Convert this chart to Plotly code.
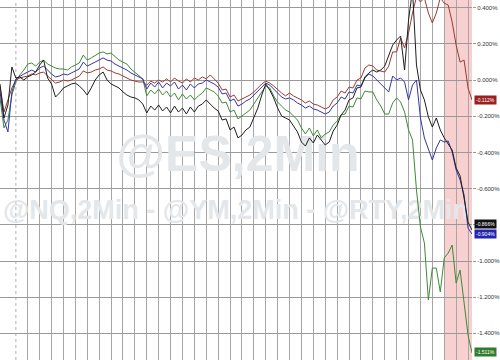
import plotly.graph_objects as go

# ---------------- data (percent change, 2-minute bars) ----------------
bars = list(range(120))

nq_red = [
    -0.033, -0.177, -0.110, -0.044, 0.000, 0.011, 0.017, 0.022, 0.033, 0.028,
    0.039, 0.044, 0.022, 0.000, -0.017, -0.011, 0.000, -0.006, 0.000, 0.011,
    0.022, 0.050, 0.039, 0.044, 0.055, 0.061, 0.072, 0.055, 0.050, 0.039,
    0.033, 0.022, 0.011, 0.000, -0.006, -0.011, -0.011, -0.028, -0.006, -0.017,
    0.000, -0.011, 0.006, -0.011, 0.011, -0.006, -0.017, 0.006, -0.011, 0.011,
    0.000, 0.017, 0.006, 0.028, 0.006, -0.017, -0.055, -0.050, -0.094, -0.083,
    -0.116, -0.105, -0.094, -0.083, -0.066, -0.044, -0.022, -0.006, -0.017, -0.033,
    -0.055, -0.072, -0.088, -0.072, -0.088, -0.099, -0.110, -0.127, -0.116, -0.133,
    -0.138, -0.149, -0.160, -0.149, -0.110, -0.094, -0.061, -0.072, -0.039, -0.044,
    0.000, 0.011, 0.066, 0.083, 0.077, 0.055, 0.050, 0.044, 0.077, 0.155,
    0.155, 0.232, 0.177, 0.260, 0.370, 0.459, 0.431, 0.453, 0.370, 0.315,
    0.370, 0.453, 0.425, 0.414, 0.320, 0.193, 0.099, 0.110, -0.044, -0.110,
]

es_black = [
    -0.022, -0.210, -0.138, 0.072, 0.011, 0.017, 0.000, 0.017, 0.028, 0.044,
    0.083, 0.110, 0.011, -0.022, -0.094, -0.072, -0.044, -0.033, -0.022, -0.017,
    -0.033, -0.055, -0.083, -0.044, 0.000, 0.028, 0.044, 0.000, -0.022, -0.033,
    -0.044, -0.066, -0.083, -0.094, -0.099, -0.110, -0.133, -0.182, -0.144, -0.166,
    -0.138, -0.171, -0.149, -0.182, -0.144, -0.177, -0.155, -0.188, -0.149, -0.177,
    -0.144, -0.133, -0.110, -0.133, -0.155, -0.171, -0.221, -0.215, -0.276, -0.260,
    -0.320, -0.304, -0.276, -0.260, -0.210, -0.155, -0.083, -0.022, -0.055, -0.099,
    -0.155, -0.199, -0.210, -0.221, -0.254, -0.287, -0.343, -0.365, -0.320, -0.348,
    -0.304, -0.331, -0.359, -0.343, -0.282, -0.249, -0.193, -0.166, -0.110, -0.099,
    -0.044, -0.039, 0.017, 0.039, 0.055, 0.044, 0.055, 0.077, 0.138, 0.193,
    0.221, 0.243, 0.055, 0.331, 0.497, 0.083, -0.055, -0.110, -0.204, -0.260,
    -0.210, -0.276, -0.320, -0.354, -0.387, -0.486, -0.530, -0.652, -0.785, -0.829,
]

ym_blue = [
    -0.066, -0.221, -0.287, -0.066, 0.006, 0.022, 0.033, 0.044, 0.055, 0.044,
    0.066, 0.077, 0.055, 0.033, 0.017, 0.022, 0.033, 0.028, 0.039, 0.050,
    0.061, 0.099, 0.077, 0.088, 0.099, 0.110, 0.122, 0.110, 0.105, 0.088,
    0.077, 0.066, 0.055, 0.039, 0.028, 0.017, 0.006, -0.050, -0.017, -0.039,
    -0.011, -0.044, -0.017, -0.033, -0.011, -0.050, -0.028, -0.055, -0.022, -0.044,
    -0.022, -0.017, 0.000, -0.011, -0.022, -0.039, -0.077, -0.072, -0.116, -0.105,
    -0.144, -0.133, -0.116, -0.105, -0.083, -0.061, -0.039, -0.017, -0.028, -0.050,
    -0.077, -0.094, -0.105, -0.099, -0.110, -0.127, -0.138, -0.155, -0.144, -0.160,
    -0.166, -0.177, -0.188, -0.177, -0.144, -0.127, -0.094, -0.105, -0.066, -0.072,
    -0.028, -0.033, 0.011, 0.033, 0.022, 0.000, -0.022, -0.044, -0.066, 0.022,
    0.000, 0.011, -0.011, -0.110, -0.028, 0.000, -0.210, -0.320, -0.387, -0.442,
    -0.376, -0.331, -0.343, -0.337, -0.398, -0.497, -0.552, -0.635, -0.818, -0.851,
]

rty_green = [
    -0.099, -0.265, -0.221, -0.083, -0.011, 0.028, 0.055, 0.088, 0.094, 0.077,
    0.099, 0.110, 0.088, 0.077, 0.066, 0.061, 0.061, 0.055, 0.072, 0.083,
    0.094, 0.138, 0.110, 0.122, 0.138, 0.149, 0.155, 0.144, 0.149, 0.127,
    0.110, 0.099, 0.088, 0.061, 0.044, 0.028, 0.006, -0.088, -0.055, -0.077,
    -0.050, -0.083, -0.061, -0.094, -0.072, -0.110, -0.077, -0.105, -0.083, -0.110,
    -0.088, -0.072, -0.044, -0.055, -0.066, -0.088, -0.127, -0.122, -0.177, -0.166,
    -0.215, -0.199, -0.182, -0.166, -0.133, -0.099, -0.066, -0.033, -0.044, -0.088,
    -0.122, -0.144, -0.166, -0.177, -0.199, -0.221, -0.265, -0.298, -0.265, -0.309,
    -0.276, -0.320, -0.298, -0.287, -0.249, -0.227, -0.193, -0.188, -0.144, -0.149,
    -0.099, -0.105, -0.061, -0.066, -0.066, -0.110, -0.144, -0.188, -0.188, -0.127,
    -0.099, -0.122, -0.177, -0.276, -0.331, -0.608, -0.812, -0.901, -1.215, -1.039,
    -1.039, -1.171, -0.983, -0.956, -0.912, -1.122, -1.050, -1.215, -1.409, -1.508,
]

end_labels = ["-0.112%", "-0.866%", "-0.904%", "-1.511%"]

y_ticks = [0.4, 0.2, 0.0, -0.2, -0.4, -0.6, -0.8, -1.0, -1.2, -1.4]
# the -0.800% label sits behind the end-value boxes in the original, so it is left blank
y_tick_text = ["0.400%", "0.200%", "0.000%", "-0.200%", "-0.400%", "-0.600%",
               "", "-1.000%", "-1.200%", "-1.400%"]

watermark_main = "@ES,2Min"
watermark_sub = "@NQ,2Min - @YM,2Min - @RTY,2Min"

# ---------------- figure ----------------
X_RANGE = [0, 119]
Y_RANGE = [-1.547, 0.442]
session_open = 4
shade_start = 112

fig = go.Figure()

def yfrac(f):
    return Y_RANGE[0] + f * (Y_RANGE[1] - Y_RANGE[0])

xmid = (X_RANGE[0] + X_RANGE[1]) / 2
# watermark as a text trace (drawn beneath the price lines)
fig.add_trace(go.Scatter(
    x=[xmid + 0.5, xmid], y=[yfrac(0.561), yfrac(0.411)],
    mode="text", text=[watermark_main, watermark_sub],
    textfont=dict(family="Liberation Sans", size=[50, 27], color="#e3e7ea",
                  weight="bold"),
    textposition="middle center", hoverinfo="skip", showlegend=False,
    cliponaxis=False,
))

series = [
    ("RTY", rty_green, "#3f8a36"),
    ("NQ", nq_red, "#9a3b33"),
    ("YM", ym_blue, "#3434a8"),
    ("ES", es_black, "#1e1e1e"),
]
for name, vals, col in series:
    fig.add_trace(go.Scatter(
        x=bars, y=vals, mode="lines", name=name,
        line=dict(color=col, width=1), showlegend=False,
    ))

# shaded region
fig.add_shape(type="rect", xref="x", yref="paper", x0=shade_start, x1=X_RANGE[1],
              y0=0, y1=1, fillcolor="#f8d0d0", line=dict(width=0), layer="below")
# dotted session-open line
fig.add_shape(type="line", xref="x", yref="paper", x0=session_open, x1=session_open,
              y0=0, y1=1, line=dict(color="#b0b0b0", width=1, dash="dot"), layer="below")

# end-value boxes
box_info = [
    (nq_red, end_labels[0], "#9b1f1f", 0),
    (es_black, end_labels[1], "#111111", 6),
    (ym_blue, end_labels[2], "#2424b0", 0),
    (rty_green, end_labels[3], "#2f7d2a", 1),
]
for vals, txt, col, ysh in box_info:
    fig.add_annotation(
        xref="paper", yref="y", x=1, y=vals[-1], xanchor="left", yanchor="middle",
        xshift=2, yshift=ysh, text=txt, showarrow=False,
        font=dict(family="Liberation Sans", size=5, color="white"),
        bgcolor=col, borderpad=1,
    )

grid_x = list(range(session_open + 3, X_RANGE[1] + 1, 3))

fig.update_layout(
    width=500, height=360,
    margin=dict(l=0, r=23, t=0, b=0),
    paper_bgcolor="white", plot_bgcolor="white",
    xaxis=dict(range=X_RANGE, tickvals=grid_x, showticklabels=False,
               showgrid=True, gridcolor="#a6a6a6", gridwidth=1,
               zeroline=False, showline=False, ticks=""),
    yaxis=dict(range=Y_RANGE, side="right", tickvals=y_ticks, ticktext=y_tick_text,
               showgrid=True, gridcolor="#9a9a9a", gridwidth=1, zeroline=False,
               showline=False, ticks="outside", ticklen=3, tickcolor="#9a9a9a",
               tickfont=dict(family="Liberation Sans", size=6, color="#333333")),
    hovermode=False,
)

fig.write_html("out.html", config={"displayModeBar": False})
